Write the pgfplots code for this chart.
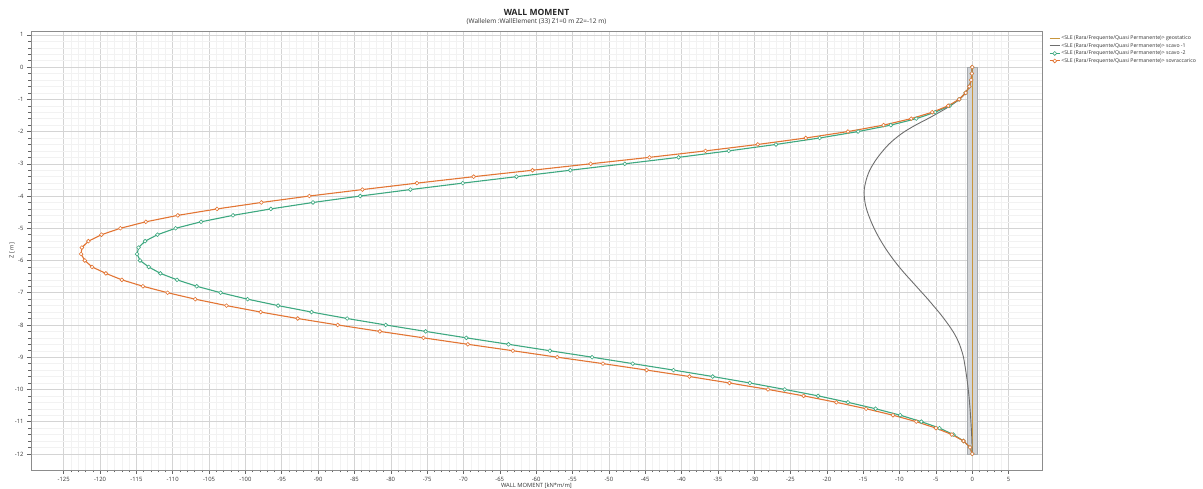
\documentclass[border=0pt]{standalone}
\usepackage{pgfplots}
\pgfplotsset{compat=1.18}
\usepackage{fontspec}
\setmainfont{Open Sans}
\definecolor{cOrange}{RGB}{226,117,52}
\definecolor{cGreen}{RGB}{62,168,128}
\definecolor{cGray}{RGB}{110,110,110}
\definecolor{cTan}{RGB}{200,150,60}
\definecolor{cWall}{RGB}{210,212,215}
\definecolor{cWallEdge}{RGB}{165,169,173}
\begin{document}
\begin{tikzpicture}
\begin{axis}[
  name=ax,
  scale only axis,
  width=1011bp, height=439bp,
  xmin=-129.5, xmax=9.6, ymin=-12.5, ymax=1.12,
  xtick={-125,-120,...,5},
  ytick={-12,-11,...,1},
  minor x tick num=4, minor y tick num=4,
  grid=both,
  major grid style={draw=black!17, line width=0.5bp},
  minor grid style={draw=black!5, line width=0.4bp},
  tick align=outside,
  xtick pos=bottom, ytick pos=left,
  major tick length=4bp, minor tick length=2.5bp,
  tick style={black!60, line width=0.5bp},
  axis line style={black!45, line width=0.6bp},
  /pgf/number format/assume math mode=true,
  ticklabel style={font=\fontsize{5.9}{6}\selectfont, text=black!80},
  xlabel={WALL MOMENT [kN*m/m]},
  ylabel={Z [ m]},
  every axis x label/.style={at={(rel axis cs:0.5,0)}, yshift=-16bp, anchor=center, font=\fontsize{5.8}{6}\selectfont, text=black!80},
  every axis y label/.style={at={(rel axis cs:0,0.5)}, xshift=-19bp, rotate=90, anchor=center, font=\fontsize{5.8}{6}\selectfont, text=black!80},
  legend style={at={(rel axis cs:1,1)}, anchor=north west, xshift=7bp, yshift=-3.5bp, draw=none, fill=none, inner sep=0pt, font=\fontsize{5.2}{6}\selectfont, text=black!80, nodes={inner sep=1.1bp, text height=4.1bp, text depth=1.2bp}, row sep=0bp},
  legend cell align=left,
  legend image code/.code={\draw[mark repeat=2,mark phase=2,#1] plot coordinates {(0bp,0bp) (5bp,0bp) (10bp,0bp)};},
]
\addplot[fill=cWall, draw=cWallEdge, line width=0.5bp, forget plot] coordinates {(-0.7,0) (0.7,0) (0.7,-12) (-0.7,-12) (-0.7,0)};

\addplot[cTan, line width=1bp] coordinates {(0,0) (0,-12)};
\addlegendentry{<SLE (Rara/Frequente/Quasi Permanente)> geostatico}

\addplot[cGray, line width=0.9bp, smooth] coordinates {
(0,0) (-0.05,-0.2) (-0.15,-0.4) (-0.4,-0.6) (-0.9,-0.8) (-1.75,-1.0) (-3.0,-1.2) (-4.5,-1.4) (-6.1,-1.6) (-7.8,-1.8)
(-9.3,-2.0) (-10.5,-2.2) (-11.5,-2.4) (-12.3,-2.6) (-13.0,-2.8) (-13.6,-3.0) (-14.1,-3.2) (-14.45,-3.4) (-14.7,-3.6) (-14.85,-3.8)
(-14.85,-4.0) (-14.75,-4.2) (-14.55,-4.4) (-14.25,-4.6) (-13.9,-4.8) (-13.5,-5.0) (-13.05,-5.2) (-12.55,-5.4) (-12.0,-5.6) (-11.4,-5.8)
(-10.75,-6.0) (-10.05,-6.2) (-9.3,-6.4) (-8.5,-6.6) (-7.7,-6.8) (-6.9,-7.0) (-6.1,-7.2) (-5.35,-7.4) (-4.6,-7.6) (-3.9,-7.8)
(-3.25,-8.0) (-2.65,-8.2) (-2.15,-8.4) (-1.75,-8.6) (-1.45,-8.8) (-1.2,-9.0) (-0.9,-9.4) (-0.65,-9.8) (-0.45,-10.2) (-0.3,-10.6)
(-0.18,-11.0) (-0.08,-11.4) (-0.02,-11.8) (0,-12.0)};
\addlegendentry{<SLE (Rara/Frequente/Quasi Permanente)> scavo -1}

\addplot[cGreen, line width=1.1bp, mark=*, mark size=1.9bp, mark options={fill=white, draw=cGreen, line width=0.6bp}] coordinates {
(0,0) (-0.05,-0.2) (-0.15,-0.4) (-0.4,-0.6) (-0.9,-0.8) (-1.8,-1.0) (-3.1,-1.2) (-5.1,-1.4) (-7.7,-1.6) (-11.2,-1.8)
(-15.7,-2.0) (-21.0,-2.2) (-27.0,-2.4) (-33.5,-2.6) (-40.4,-2.8) (-47.8,-3.0) (-55.3,-3.2) (-62.7,-3.4) (-70.1,-3.6) (-77.3,-3.8)
(-84.2,-4.0) (-90.7,-4.2) (-96.5,-4.4) (-101.7,-4.6) (-106.1,-4.8) (-109.6,-5.0) (-112.1,-5.2) (-113.8,-5.4) (-114.7,-5.6) (-114.9,-5.8)
(-114.5,-6.0) (-113.3,-6.2) (-111.7,-6.4) (-109.4,-6.6) (-106.7,-6.8) (-103.4,-7.0) (-99.7,-7.2) (-95.5,-7.4) (-90.9,-7.6) (-86.0,-7.8)
(-80.7,-8.0) (-75.2,-8.2) (-69.6,-8.4) (-63.8,-8.6) (-58.1,-8.8) (-52.3,-9.0) (-46.7,-9.2) (-41.1,-9.4) (-35.7,-9.6) (-30.6,-9.8)
(-25.8,-10.0) (-21.2,-10.2) (-17.1,-10.4) (-13.3,-10.6) (-9.9,-10.8) (-7.0,-11.0) (-4.5,-11.2) (-2.6,-11.4) (-1.2,-11.6) (-0.3,-11.8)
(0,-12.0)};
\addlegendentry{<SLE (Rara/Frequente/Quasi Permanente)> scavo -2}

\addplot[cOrange, line width=1.1bp, mark=*, mark size=1.9bp, mark options={fill=white, draw=cOrange, line width=0.6bp}] coordinates {
(0,0) (-0.05,-0.2) (-0.15,-0.4) (-0.4,-0.6) (-0.9,-0.8) (-1.8,-1.0) (-3.3,-1.2) (-5.5,-1.4) (-8.4,-1.6) (-12.2,-1.8)
(-17.1,-2.0) (-22.9,-2.2) (-29.5,-2.4) (-36.7,-2.6) (-44.4,-2.8) (-52.5,-3.0) (-60.5,-3.2) (-68.6,-3.4) (-76.4,-3.6) (-83.9,-3.8)
(-91.2,-4.0) (-97.8,-4.2) (-103.9,-4.4) (-109.3,-4.6) (-113.7,-4.8) (-117.2,-5.0) (-119.8,-5.2) (-121.6,-5.4) (-122.5,-5.6) (-122.6,-5.8)
(-122.1,-6.0) (-121.1,-6.2) (-119.2,-6.4) (-117.0,-6.6) (-114.1,-6.8) (-110.7,-7.0) (-106.9,-7.2) (-102.6,-7.4) (-97.9,-7.6) (-92.8,-7.8)
(-87.3,-8.0) (-81.5,-8.2) (-75.5,-8.4) (-69.4,-8.6) (-63.2,-8.8) (-57.1,-9.0) (-50.8,-9.2) (-44.8,-9.4) (-38.9,-9.6) (-33.4,-9.8)
(-28.1,-10.0) (-23.2,-10.2) (-18.7,-10.4) (-14.6,-10.6) (-10.9,-10.8) (-7.7,-11.0) (-5.0,-11.2) (-2.8,-11.4) (-1.2,-11.6) (-0.3,-11.8)
(0,-12.0)};
\addlegendentry{<SLE (Rara/Frequente/Quasi Permanente)> sovraccarico}
\end{axis}
\node[anchor=center, font=\fontsize{8.6}{9}\selectfont\bfseries, text=black!85] at ([yshift=19bp]ax.north) {WALL MOMENT};
\node[anchor=center, font=\fontsize{6.5}{7}\selectfont, text=black!80] at ([yshift=9bp]ax.north) {(Wallelem :WallElement (33) Z1=0 m Z2=-12 m)};
\pgfresetboundingbox
\path (ax.south west) ++(-31bp,-19bp) rectangle ++(1203bp,489bp);
\end{tikzpicture}
\end{document}
